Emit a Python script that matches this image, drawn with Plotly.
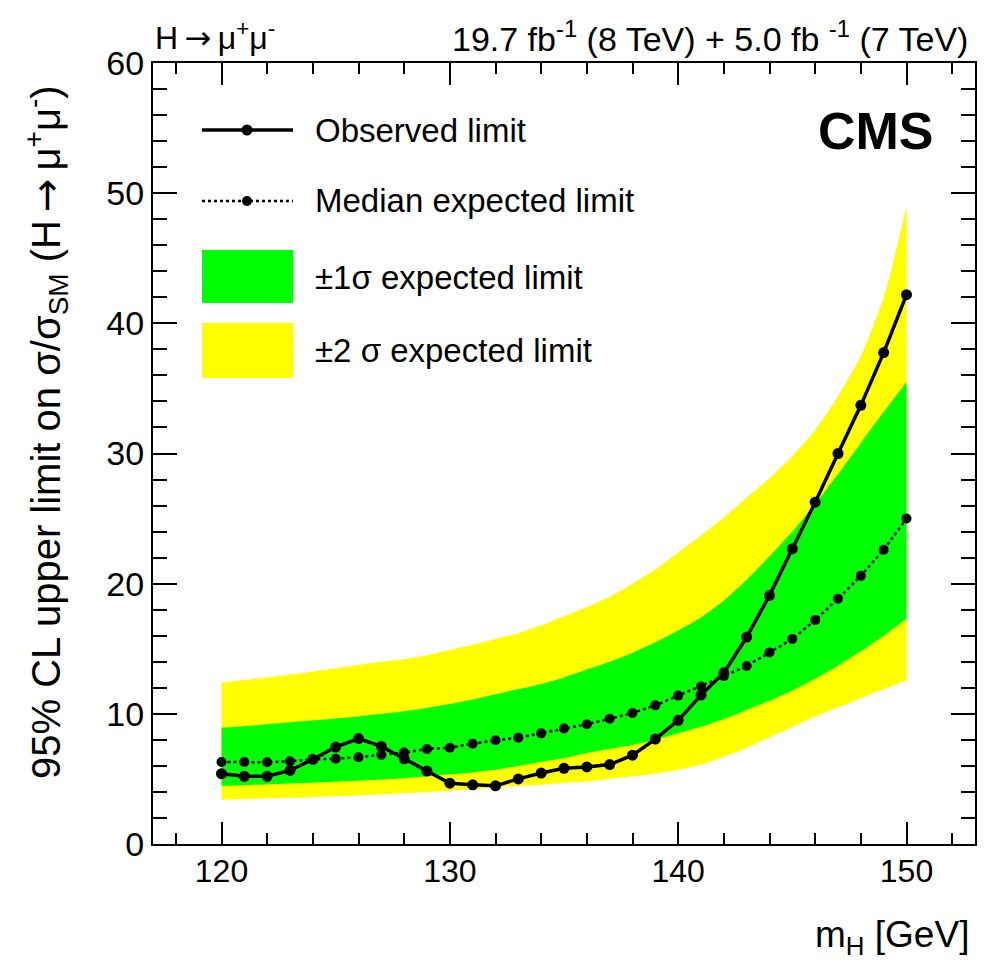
import plotly.graph_objects as go

# ---------------- data ----------------
mass = [120, 121, 122, 123, 124, 125, 126, 127, 128, 129, 130,
        131, 132, 133, 134, 135, 136, 137, 138, 139, 140,
        141, 142, 143, 144, 145, 146, 147, 148, 149, 150]

observed = [5.4, 5.2, 5.2, 5.65, 6.5, 7.45, 8.1, 7.5, 6.55, 5.6, 4.67,
            4.55, 4.47, 5.0, 5.45, 5.82, 5.92, 6.1, 6.82, 8.06, 9.5,
            11.44, 13.15, 15.9, 19.1, 22.68, 26.26, 30.0, 33.7, 37.75, 42.2]

expected = [6.3, 6.3, 6.28, 6.35, 6.5, 6.55, 6.67, 6.85, 7.02, 7.3, 7.4,
            7.7, 7.97, 8.17, 8.5, 8.87, 9.2, 9.62, 10.07, 10.65, 11.4,
            12.1, 12.9, 13.68, 14.72, 15.75, 17.2, 18.85, 20.6, 22.6, 25.0]

plus2 = [12.4, 12.6, 12.8, 13.0, 13.25, 13.5, 13.75, 14.0, 14.2, 14.5, 14.9,
         15.3, 15.75, 16.2, 16.8, 17.5, 18.2, 19.0, 20.0, 21.1, 22.4,
         23.7, 25.1, 26.6, 28.1, 29.8, 31.8, 34.4, 37.5, 42.0, 49.0]

plus1 = [8.94, 9.05, 9.2, 9.35, 9.5, 9.65, 9.8, 10.0, 10.2, 10.45, 10.75,
         11.1, 11.5, 11.9, 12.3, 12.8, 13.4, 14.0, 14.7, 15.5, 16.4,
         17.4, 18.7, 20.3, 22.1, 24.0, 26.1, 28.4, 30.8, 33.2, 35.5]

minus1 = [4.47, 4.52, 4.58, 4.64, 4.7, 4.78, 4.86, 4.95, 5.05, 5.2, 5.35,
          5.5, 5.7, 6.0, 6.3, 6.6, 7.0, 7.3, 7.6, 8.0, 8.5,
          9.0, 9.6, 10.3, 11.0, 11.8, 12.7, 13.7, 14.8, 16.0, 17.3]

minus2 = [3.4, 3.45, 3.5, 3.55, 3.6, 3.66, 3.72, 3.8, 3.9, 4.0, 4.1,
          4.2, 4.35, 4.45, 4.55, 4.7, 4.8, 5.0, 5.2, 5.4, 5.7,
          6.1, 6.7, 7.4, 8.2, 9.0, 9.8, 10.5, 11.2, 11.9, 12.6]

x_ticks = [120, 130, 140, 150]
y_ticks = [0, 10, 20, 30, 40, 50, 60]

# ---------------- geometry helpers (pixel -> paper) ----------------
W, H = 992, 964
ML, MR, MT, MB = 153, 17, 63, 120
PW, PH = W - ML - MR, H - MT - MB


def px(xp):
    return (xp - ML) / PW


def py(yp):
    return (H - MB - yp) / PH


FONT = "Liberation Sans, Arial, Helvetica, sans-serif"
ARROW = '<span style="font-family:DejaVu Sans">\u2009\u2192\u2009</span>'
YELLOW = "#ffff00"
GREEN = "#00ff00"

fig = go.Figure()

band_line = dict(width=0, shape="spline", smoothing=0.6)

# +-2 sigma band
fig.add_trace(go.Scatter(x=mass, y=minus2, mode="lines", line=band_line,
                         hoverinfo="skip", showlegend=False))
fig.add_trace(go.Scatter(x=mass, y=plus2, mode="lines", line=band_line,
                         fill="tonexty", fillcolor=YELLOW,
                         hoverinfo="skip", showlegend=False))
# +-1 sigma band
fig.add_trace(go.Scatter(x=mass, y=minus1, mode="lines", line=band_line,
                         hoverinfo="skip", showlegend=False))
fig.add_trace(go.Scatter(x=mass, y=plus1, mode="lines", line=band_line,
                         fill="tonexty", fillcolor=GREEN,
                         hoverinfo="skip", showlegend=False))

# expected
fig.add_trace(go.Scatter(
    x=mass, y=expected, mode="lines+markers",
    line=dict(color="black", width=2.5, dash="dot"),
    marker=dict(color="black", size=10), showlegend=False))

# observed
fig.add_trace(go.Scatter(
    x=mass, y=observed, mode="lines+markers",
    line=dict(color="black", width=3.5),
    marker=dict(color="black", size=11), showlegend=False))

axis_common = dict(
    showline=True, linecolor="black", linewidth=2, mirror="ticks",
    ticks="inside", tickwidth=2, tickcolor="black",
    showgrid=False, zeroline=False,
)

fig.update_xaxes(
    range=[117, 153], tickvals=x_ticks, ticktext=[str(v) for v in x_ticks],
    tickfont=dict(family=FONT, size=32, color="black"),
    ticklen=22,
    minor=dict(dtick=2, tick0=0, ticks="inside", ticklen=11, tickwidth=2,
               tickcolor="black", showgrid=False),
    ticklabelstandoff=-2,
    **axis_common)
fig.update_yaxes(
    range=[0, 60], tickvals=y_ticks, ticktext=[str(v) for v in y_ticks],
    tickfont=dict(family=FONT, size=34, color="black"),
    ticklen=24,
    minor=dict(dtick=2, tick0=0, ticks="inside", ticklen=14, tickwidth=2,
               tickcolor="black", showgrid=False),
    ticklabelstandoff=0,
    **axis_common)

shapes = []
annotations = []

# legend (drawn manually)
LX0, LX1, LXM = 202, 293, 247
shapes.append(dict(type="line", xref="paper", yref="paper",
                   x0=px(LX0), x1=px(LX1), y0=py(130), y1=py(130),
                   line=dict(color="black", width=3.5)))
shapes.append(dict(type="circle", xref="paper", yref="paper",
                   x0=px(LXM - 5.5), x1=px(LXM + 5.5), y0=py(130 + 5.5), y1=py(130 - 5.5),
                   fillcolor="black", line=dict(color="black", width=0)))
shapes.append(dict(type="line", xref="paper", yref="paper",
                   x0=px(LX0), x1=px(LX1), y0=py(201), y1=py(201),
                   line=dict(color="black", width=2.5, dash="dot")))
shapes.append(dict(type="circle", xref="paper", yref="paper",
                   x0=px(LXM - 5), x1=px(LXM + 5), y0=py(201 + 5), y1=py(201 - 5),
                   fillcolor="black", line=dict(color="black", width=0)))
shapes.append(dict(type="rect", xref="paper", yref="paper",
                   x0=px(LX0), x1=px(LX1), y0=py(303), y1=py(250),
                   fillcolor=GREEN, line=dict(width=0)))
shapes.append(dict(type="rect", xref="paper", yref="paper",
                   x0=px(LX0), x1=px(LX1), y0=py(378), y1=py(323),
                   fillcolor=YELLOW, line=dict(width=0)))

legend_texts = [("Observed limit", 130), ("Median expected limit", 201),
                ("\u00b11\u03c3 expected limit", 277), ("\u00b12 \u03c3 expected limit", 350)]
for txt, yy in legend_texts:
    annotations.append(dict(text=txt, xref="paper", yref="paper", x=px(313), y=py(yy),
                            xanchor="left", yanchor="middle", showarrow=False,
                            font=dict(family=FONT, size=33, color="black")))

# CMS label
annotations.append(dict(text="<b>CMS</b>", xref="paper", yref="paper", x=px(936), y=py(131),
                        xanchor="right", yanchor="middle", showarrow=False,
                        font=dict(family=FONT, size=52, color="black")))

# header
annotations.append(dict(text="H" + ARROW + "\u03bc<sup>+</sup>\u03bc<sup>-</sup>", xref="paper", yref="paper",
                        x=px(153), y=py(37), xanchor="left", yanchor="middle", showarrow=False,
                        font=dict(family=FONT, size=32, color="black")))
annotations.append(dict(text="19.7 fb<sup>-1</sup> (8 TeV) + 5.0 fb <sup>-1</sup> (7 TeV)",
                        xref="paper", yref="paper",
                        x=px(970), y=py(37), xanchor="right", yanchor="middle", showarrow=False,
                        font=dict(family=FONT, size=34, color="black")))

# axis titles
annotations.append(dict(text="m<sub>H</sub> [GeV]", xref="paper", yref="paper",
                        x=px(971), y=py(937), xanchor="right", yanchor="middle", showarrow=False,
                        font=dict(family=FONT, size=37, color="black")))
annotations.append(dict(text="95% CL upper limit on \u03c3/\u03c3<sub>SM</sub> (H" + ARROW + "\u03bc<sup>+</sup>\u03bc<sup>-</sup>)",
                        xref="paper", yref="paper", textangle=-90,
                        x=px(46), y=py(432), xanchor="center", yanchor="middle", showarrow=False,
                        font=dict(family=FONT, size=40, color="black")))

fig.update_layout(
    width=W, height=H,
    margin=dict(l=ML, r=MR, t=MT, b=MB),
    paper_bgcolor="white", plot_bgcolor="white",
    shapes=shapes, annotations=annotations,
    showlegend=False,
)

fig.write_html("out.html")
